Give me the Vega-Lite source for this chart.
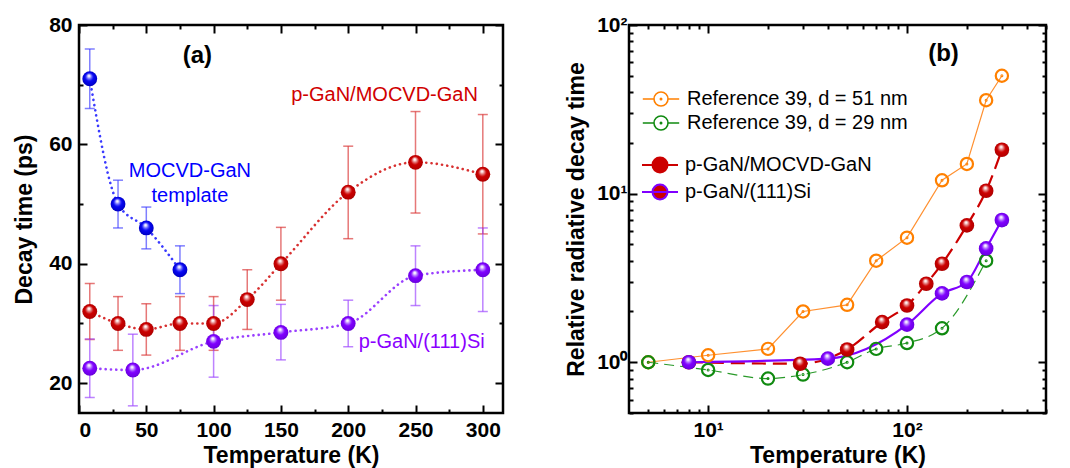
{
  "$schema": "https://vega.github.io/schema/vega-lite/v6.json",
  "padding": {"left": 12, "top": 12, "right": 5, "bottom": 0},
  "background": "white",
  "config": {
    "font": "Liberation Sans",
    "view": {"stroke": "black", "strokeWidth": 2.5},
    "axis": {
      "labelFont": "Liberation Sans", "labelFontSize": 21, "labelFontWeight": "bold", "labelColor": "black",
      "titleFont": "Liberation Sans", "titleFontSize": 23, "titleFontWeight": "bold", "titleColor": "black",
      "tickColor": "black", "tickWidth": 2, "domain": false, "grid": false
    },
    "legend": {"labelFont": "Liberation Sans", "labelFontSize": 20, "labelColor": "black", "padding": 0, "labelLimit": 0}
  },
  "datasets": {
    "a": [
      {"series": "MOCVD-GaN template", "T": 8, "v": 71, "lo": 66, "hi": 76},
      {"series": "MOCVD-GaN template", "T": 29, "v": 50, "lo": 46, "hi": 54},
      {"series": "MOCVD-GaN template", "T": 50, "v": 46, "lo": 42.5, "hi": 49.5},
      {"series": "MOCVD-GaN template", "T": 75, "v": 39, "lo": 35, "hi": 43},
      {"series": "p-GaN/MOCVD-GaN", "T": 8, "v": 32, "lo": 27.3, "hi": 36.7},
      {"series": "p-GaN/MOCVD-GaN", "T": 29, "v": 30, "lo": 25.5, "hi": 34.5},
      {"series": "p-GaN/MOCVD-GaN", "T": 50, "v": 29, "lo": 24.7, "hi": 33.3},
      {"series": "p-GaN/MOCVD-GaN", "T": 75, "v": 30, "lo": 25.5, "hi": 34.5},
      {"series": "p-GaN/MOCVD-GaN", "T": 100, "v": 30, "lo": 25.5, "hi": 34.5},
      {"series": "p-GaN/MOCVD-GaN", "T": 125, "v": 34, "lo": 29, "hi": 39},
      {"series": "p-GaN/MOCVD-GaN", "T": 150, "v": 40, "lo": 33.9, "hi": 46.1},
      {"series": "p-GaN/MOCVD-GaN", "T": 200, "v": 52, "lo": 44.2, "hi": 59.7},
      {"series": "p-GaN/MOCVD-GaN", "T": 250, "v": 57, "lo": 48.5, "hi": 65.5},
      {"series": "p-GaN/MOCVD-GaN", "T": 300, "v": 55, "lo": 45, "hi": 65},
      {"series": "p-GaN/(111)Si", "T": 8, "v": 22.5, "lo": 17.6, "hi": 27.4},
      {"series": "p-GaN/(111)Si", "T": 40, "v": 22.2, "lo": 16.2, "hi": 28.2},
      {"series": "p-GaN/(111)Si", "T": 100, "v": 27, "lo": 21, "hi": 33},
      {"series": "p-GaN/(111)Si", "T": 150, "v": 28.5, "lo": 23.9, "hi": 33.2},
      {"series": "p-GaN/(111)Si", "T": 200, "v": 30, "lo": 26.1, "hi": 33.9},
      {"series": "p-GaN/(111)Si", "T": 250, "v": 38, "lo": 33, "hi": 43},
      {"series": "p-GaN/(111)Si", "T": 300, "v": 39, "lo": 32, "hi": 46}
    ],
    "b": [
      {"series": "Reference 39, d = 51 nm", "T": 5, "v": 1.0},
      {"series": "Reference 39, d = 51 nm", "T": 10, "v": 1.1},
      {"series": "Reference 39, d = 51 nm", "T": 20, "v": 1.2},
      {"series": "Reference 39, d = 51 nm", "T": 30, "v": 2.0},
      {"series": "Reference 39, d = 51 nm", "T": 50, "v": 2.19},
      {"series": "Reference 39, d = 51 nm", "T": 70, "v": 4.0},
      {"series": "Reference 39, d = 51 nm", "T": 100, "v": 5.48},
      {"series": "Reference 39, d = 51 nm", "T": 150, "v": 12.0},
      {"series": "Reference 39, d = 51 nm", "T": 200, "v": 15.0},
      {"series": "Reference 39, d = 51 nm", "T": 250, "v": 35.8},
      {"series": "Reference 39, d = 51 nm", "T": 300, "v": 50},
      {"series": "Reference 39, d = 29 nm", "T": 5, "v": 1.0},
      {"series": "Reference 39, d = 29 nm", "T": 10, "v": 0.9},
      {"series": "Reference 39, d = 29 nm", "T": 20, "v": 0.8},
      {"series": "Reference 39, d = 29 nm", "T": 30, "v": 0.845},
      {"series": "Reference 39, d = 29 nm", "T": 50, "v": 1.0},
      {"series": "Reference 39, d = 29 nm", "T": 70, "v": 1.2},
      {"series": "Reference 39, d = 29 nm", "T": 100, "v": 1.3},
      {"series": "Reference 39, d = 29 nm", "T": 150, "v": 1.59},
      {"series": "Reference 39, d = 29 nm", "T": 250, "v": 4.0},
      {"series": "p-GaN/MOCVD-GaN", "T": 8, "v": 1.0},
      {"series": "p-GaN/MOCVD-GaN", "T": 29, "v": 0.98},
      {"series": "p-GaN/MOCVD-GaN", "T": 50, "v": 1.19},
      {"series": "p-GaN/MOCVD-GaN", "T": 75, "v": 1.73},
      {"series": "p-GaN/MOCVD-GaN", "T": 100, "v": 2.17},
      {"series": "p-GaN/MOCVD-GaN", "T": 125, "v": 2.92},
      {"series": "p-GaN/MOCVD-GaN", "T": 150, "v": 3.84},
      {"series": "p-GaN/MOCVD-GaN", "T": 200, "v": 6.48},
      {"series": "p-GaN/MOCVD-GaN", "T": 250, "v": 10.4},
      {"series": "p-GaN/MOCVD-GaN", "T": 300, "v": 18.2},
      {"series": "p-GaN/(111)Si", "T": 8, "v": 1.0},
      {"series": "p-GaN/(111)Si", "T": 40, "v": 1.05},
      {"series": "p-GaN/(111)Si", "T": 100, "v": 1.67},
      {"series": "p-GaN/(111)Si", "T": 150, "v": 2.56},
      {"series": "p-GaN/(111)Si", "T": 200, "v": 2.99},
      {"series": "p-GaN/(111)Si", "T": 250, "v": 4.73},
      {"series": "p-GaN/(111)Si", "T": 300, "v": 6.97}
    ]
  },
  "bounds": "flush",
  "spacing": 126,
  "resolve": {"scale": {"color": "independent", "fill": "independent", "stroke": "independent"}, "legend": {"color": "independent", "fill": "independent", "stroke": "independent"}},
  "hconcat": [
    {
      "width": 424, "height": 388,
      "data": {"name": "a"},
      "layer": [
        {
          "mark": {"type": "errorbar", "ticks": {"size": 10, "thickness": 1.5}, "thickness": 1.5, "opacity": 0.65},
          "encoding": {
            "x": {"field": "T", "type": "quantitative", "scale": {"domain": [0, 315], "nice": false, "zero": false},
              "axis": {"orient": "bottom", "title": "Temperature (K)", "values": [0, 25, 50, 75, 100, 125, 150, 175, 200, 225, 250, 275, 300],
                "labelExpr": "datum.value % 50 === 0 ? datum.label : ''",
                "tickSize": {"condition": {"test": "datum.value % 50 === 0", "value": -8}, "value": -4},
                "labelPadding": 14, "titlePadding": 4}},
            "y": {"field": "lo", "type": "quantitative", "scale": {"domain": [15, 80], "nice": false, "zero": false},
              "axis": {"orient": "left", "title": "Decay time (ps)", "values": [20, 30, 40, 50, 60, 70, 80],
                "labelExpr": "datum.value % 20 === 0 ? datum.label : ''",
                "tickSize": {"condition": {"test": "datum.value % 20 === 0", "value": -8}, "value": -4},
                "labelPadding": 15, "titlePadding": 12}},
            "y2": {"field": "hi"},
            "color": {"field": "series", "type": "nominal", "legend": null,
              "scale": {"domain": ["MOCVD-GaN template", "p-GaN/MOCVD-GaN", "p-GaN/(111)Si"], "range": ["#3a3aff", "#d83030", "#9a40ff"]}}
          }
        },
        {
          "mark": {"type": "line", "interpolate": "monotone", "strokeDash": [0.1, 5.2], "strokeCap": "round", "strokeWidth": 2.6},
          "encoding": {
            "x": {"field": "T", "type": "quantitative",
              "axis": {"orient": "top", "title": null, "labels": false, "values": [0, 25, 50, 75, 100, 125, 150, 175, 200, 225, 250, 275, 300],
                "tickSize": {"condition": {"test": "datum.value % 50 === 0", "value": -8}, "value": -4}}},
            "y": {"field": "v", "type": "quantitative",
              "axis": {"orient": "right", "title": null, "labels": false, "values": [20, 30, 40, 50, 60, 70, 80],
                "tickSize": {"condition": {"test": "datum.value % 20 === 0", "value": -8}, "value": -4}}},
            "color": {"field": "series", "type": "nominal", "legend": null,
              "scale": {"domain": ["MOCVD-GaN template", "p-GaN/MOCVD-GaN", "p-GaN/(111)Si"], "range": ["#1010ff", "#dd1010", "#8a20ff"]}}
          }
        },
        {
          "transform": [{"filter": "datum.series === 'MOCVD-GaN template'"}],
          "mark": {"type": "point", "shape": "circle", "size": 220, "opacity": 1, "strokeWidth": 0,
            "fill": {"gradient": "radial", "x1": 0.44, "y1": 0.28, "r1": 0, "x2": 0.5, "y2": 0.5, "r2": 0.56,
              "stops": [{"offset": 0, "color": "#ffffff"}, {"offset": 0.1, "color": "#f4f4ff"}, {"offset": 0.3, "color": "#6a6aff"}, {"offset": 0.5, "color": "#0808f4"}, {"offset": 0.88, "color": "#0000cc"}, {"offset": 1, "color": "#000080"}]}},
          "encoding": {"x": {"field": "T", "type": "quantitative", "axis": null}, "y": {"field": "v", "type": "quantitative", "axis": null}}
        },
        {
          "transform": [{"filter": "datum.series === 'p-GaN/MOCVD-GaN'"}],
          "mark": {"type": "point", "shape": "circle", "size": 220, "opacity": 1, "strokeWidth": 0,
            "fill": {"gradient": "radial", "x1": 0.44, "y1": 0.28, "r1": 0, "x2": 0.5, "y2": 0.5, "r2": 0.56,
              "stops": [{"offset": 0, "color": "#ffffff"}, {"offset": 0.1, "color": "#fff0f0"}, {"offset": 0.3, "color": "#e07070"}, {"offset": 0.5, "color": "#cc0000"}, {"offset": 0.88, "color": "#b40000"}, {"offset": 1, "color": "#700000"}]}},
          "encoding": {"x": {"field": "T", "type": "quantitative", "axis": null}, "y": {"field": "v", "type": "quantitative", "axis": null}}
        },
        {
          "transform": [{"filter": "datum.series === 'p-GaN/(111)Si'"}],
          "mark": {"type": "point", "shape": "circle", "size": 220, "opacity": 1, "strokeWidth": 0,
            "fill": {"gradient": "radial", "x1": 0.44, "y1": 0.28, "r1": 0, "x2": 0.5, "y2": 0.5, "r2": 0.56,
              "stops": [{"offset": 0, "color": "#ffffff"}, {"offset": 0.1, "color": "#f8f0ff"}, {"offset": 0.3, "color": "#b070ff"}, {"offset": 0.5, "color": "#8000ff"}, {"offset": 0.88, "color": "#6c00e4"}, {"offset": 1, "color": "#40008a"}]}},
          "encoding": {"x": {"field": "T", "type": "quantitative", "axis": null}, "y": {"field": "v", "type": "quantitative", "axis": null}}
        },
        {
          "data": {"values": [{}]},
          "mark": {"type": "text", "text": "(a)", "fontSize": 24, "fontWeight": "bold", "color": "black", "align": "center", "baseline": "middle"},
          "encoding": {"x": {"datum": 88, "type": "quantitative", "axis": null}, "y": {"datum": 74.8, "type": "quantitative", "axis": null}}
        },
        {
          "data": {"values": [{}]},
          "mark": {"type": "text", "text": ["MOCVD-GaN", "template"], "lineHeight": 25, "fontSize": 20, "color": "#0000ff", "align": "center", "baseline": "middle"},
          "encoding": {"x": {"datum": 82.4, "type": "quantitative", "axis": null}, "y": {"datum": 55.6, "type": "quantitative", "axis": null}}
        },
        {
          "data": {"values": [{}]},
          "mark": {"type": "text", "text": "p-GaN/MOCVD-GaN", "fontSize": 20, "color": "#d00000", "align": "center", "baseline": "middle"},
          "encoding": {"x": {"datum": 227, "type": "quantitative", "axis": null}, "y": {"datum": 68.3, "type": "quantitative", "axis": null}}
        },
        {
          "data": {"values": [{}]},
          "mark": {"type": "text", "text": "p-GaN/(111)Si", "fontSize": 20, "color": "#8a00ff", "align": "center", "baseline": "middle"},
          "encoding": {"x": {"datum": 254.6, "type": "quantitative", "axis": null}, "y": {"datum": 26.9, "type": "quantitative", "axis": null}}
        }
      ]
    },
    {
      "width": 417, "height": 388,
      "data": {"name": "b"},
      "resolve": {"scale": {"stroke": "independent"}, "legend": {"stroke": "independent"}},
      "layer": [
        {
          "transform": [{"filter": "datum.series === 'Reference 39, d = 51 nm'"}],
          "mark": {"type": "line", "color": "#ff9030", "strokeWidth": 1.2},
          "encoding": {
            "x": {"field": "T", "type": "quantitative", "scale": {"type": "log", "domain": [4, 500], "nice": false},
              "axis": {"orient": "bottom", "title": "Temperature (K)", "values": [5, 6, 7, 8, 9, 10, 20, 30, 40, 50, 60, 70, 80, 90, 100, 200, 300, 400, 500],
                "labelExpr": "datum.value === 10 ? '10¹' : (datum.value === 100 ? '10²' : '')",
                "tickSize": {"condition": {"test": "datum.value === 10 || datum.value === 100", "value": -8}, "value": -4},
                "labelPadding": 14, "titlePadding": 4}},
            "y": {"field": "v", "type": "quantitative", "scale": {"type": "log", "domain": [0.5, 100], "nice": false},
              "axis": {"orient": "left", "title": "Relative radiative decay time", "values": [0.5, 0.6, 0.7, 0.8, 0.9, 1, 2, 3, 4, 5, 6, 7, 8, 9, 10, 20, 30, 40, 50, 60, 70, 80, 90, 100],
                "labelExpr": "datum.value === 1 ? '10⁰' : (datum.value === 10 ? '10¹' : (datum.value === 100 ? '10²' : ''))",
                "tickSize": {"condition": {"test": "datum.value === 1 || datum.value === 10 || datum.value === 100", "value": -8}, "value": -4},
                "labelPadding": 10, "titlePadding": 8}}
          }
        },
        {
          "transform": [{"filter": "datum.series === 'Reference 39, d = 29 nm'"}],
          "mark": {"type": "line", "color": "#2a9a2a", "strokeWidth": 1.2, "strokeDash": [10, 6], "interpolate": "monotone"},
          "encoding": {
            "x": {"field": "T", "type": "quantitative",
              "axis": {"orient": "top", "title": null, "labels": false, "values": [5, 6, 7, 8, 9, 10, 20, 30, 40, 50, 60, 70, 80, 90, 100, 200, 300, 400, 500],
                "tickSize": {"condition": {"test": "datum.value === 10 || datum.value === 100", "value": -8}, "value": -4}}},
            "y": {"field": "v", "type": "quantitative",
              "axis": {"orient": "right", "title": null, "labels": false, "values": [0.5, 0.6, 0.7, 0.8, 0.9, 1, 2, 3, 4, 5, 6, 7, 8, 9, 10, 20, 30, 40, 50, 60, 70, 80, 90, 100],
                "tickSize": {"condition": {"test": "datum.value === 1 || datum.value === 10 || datum.value === 100", "value": -8}, "value": -4}}}
          }
        },
        {
          "transform": [{"filter": "datum.series === 'p-GaN/MOCVD-GaN'"}],
          "mark": {"type": "line", "color": "#cc0000", "strokeWidth": 2.2, "strokeDash": [14, 7], "interpolate": "monotone"},
          "encoding": {"x": {"field": "T", "type": "quantitative", "axis": null}, "y": {"field": "v", "type": "quantitative", "axis": null}}
        },
        {
          "transform": [{"filter": "datum.series === 'p-GaN/(111)Si'"}],
          "mark": {"type": "line", "color": "#8000ff", "strokeWidth": 2.2, "interpolate": "monotone"},
          "encoding": {"x": {"field": "T", "type": "quantitative", "axis": null}, "y": {"field": "v", "type": "quantitative", "axis": null}}
        },
        {
          "transform": [{"filter": "indexof(datum.series, 'Reference') === 0"}],
          "mark": {"type": "point", "shape": "circle", "filled": false, "size": 150, "strokeWidth": 2.2, "opacity": 1},
          "encoding": {
            "x": {"field": "T", "type": "quantitative", "axis": null}, "y": {"field": "v", "type": "quantitative", "axis": null},
            "stroke": {"field": "series", "type": "nominal",
              "scale": {"domain": ["Reference 39, d = 51 nm", "Reference 39, d = 29 nm"], "range": ["#ff8000", "#108a10"]},
              "legend": {"title": null, "orient": "none", "legendX": 22, "legendY": 64, "rowPadding": 2, "labelOffset": 16,
                "symbolType": "M-2.6,0H-1M1,0H2.6M-1,0A1,1 0 1,0 1,0A1,1 0 1,0 -1,0M-0.1,0A0.1,0.1 0 1,0 0.1,0A0.1,0.1 0 1,0 -0.1,0",
                "symbolSize": 196, "symbolStrokeWidth": 1.6, "symbolFillColor": "transparent"}}
          }
        },
        {
          "transform": [{"filter": "indexof(datum.series, 'Reference') === 0"}],
          "mark": {"type": "point", "shape": "circle", "filled": false, "size": 1, "strokeWidth": 2, "opacity": 1},
          "encoding": {
            "x": {"field": "T", "type": "quantitative", "axis": null}, "y": {"field": "v", "type": "quantitative", "axis": null},
            "stroke": {"field": "series", "type": "nominal", "legend": null,
              "scale": {"domain": ["Reference 39, d = 51 nm", "Reference 39, d = 29 nm"], "range": ["#ff8000", "#108a10"]}}
          }
        },
        {
          "transform": [{"filter": "indexof(datum.series, 'p-GaN') === 0"}],
          "mark": {"type": "point", "shape": "circle", "filled": true, "fill": "#cc0000", "size": 40, "opacity": 1, "strokeWidth": 2},
          "encoding": {
            "x": {"field": "T", "type": "quantitative", "axis": null}, "y": {"field": "v", "type": "quantitative", "axis": null},
            "stroke": {"field": "series", "type": "nominal",
              "scale": {"domain": ["p-GaN/MOCVD-GaN", "p-GaN/(111)Si"], "range": ["#cc0000", "#8000ff"]},
              "legend": {"title": null, "orient": "none", "legendX": 21, "legendY": 130, "rowPadding": 3, "labelOffset": 15,
                "symbolType": "M-2.4,0H2.4M-1,0A1,1 0 1,0 1,0A1,1 0 1,0 -1,0Z",
                "symbolSize": 225, "symbolStrokeWidth": 2,
                "encode": {"symbols": {
                  "fill": {"signal": "datum.value === 'p-GaN/(111)Si' ? {gradient: 'radial', x1: 0.44, y1: 0.28, r1: 0, x2: 0.5, y2: 0.5, r2: 0.56, stops: [{offset: 0, color: '#ffffff'}, {offset: 0.1, color: '#f8f0ff'}, {offset: 0.3, color: '#b070ff'}, {offset: 0.5, color: '#8000ff'}, {offset: 0.88, color: '#6c00e4'}, {offset: 1, color: '#40008a'}]} : {gradient: 'radial', x1: 0.44, y1: 0.28, r1: 0, x2: 0.5, y2: 0.5, r2: 0.56, stops: [{offset: 0, color: '#ffffff'}, {offset: 0.1, color: '#fff0f0'}, {offset: 0.3, color: '#e07070'}, {offset: 0.5, color: '#cc0000'}, {offset: 0.88, color: '#b40000'}, {offset: 1, color: '#700000'}]}"}
                }}}}
          }
        },
        {
          "transform": [{"filter": "datum.series === 'p-GaN/MOCVD-GaN'"}],
          "mark": {"type": "point", "shape": "circle", "size": 215, "opacity": 1, "strokeWidth": 0,
            "fill": {"gradient": "radial", "x1": 0.44, "y1": 0.28, "r1": 0, "x2": 0.5, "y2": 0.5, "r2": 0.56,
              "stops": [{"offset": 0, "color": "#ffffff"}, {"offset": 0.1, "color": "#fff0f0"}, {"offset": 0.3, "color": "#e07070"}, {"offset": 0.5, "color": "#cc0000"}, {"offset": 0.88, "color": "#b40000"}, {"offset": 1, "color": "#700000"}]}},
          "encoding": {"x": {"field": "T", "type": "quantitative", "axis": null}, "y": {"field": "v", "type": "quantitative", "axis": null}}
        },
        {
          "transform": [{"filter": "datum.series === 'p-GaN/(111)Si'"}],
          "mark": {"type": "point", "shape": "circle", "size": 215, "opacity": 1, "strokeWidth": 0,
            "fill": {"gradient": "radial", "x1": 0.44, "y1": 0.28, "r1": 0, "x2": 0.5, "y2": 0.5, "r2": 0.56,
              "stops": [{"offset": 0, "color": "#ffffff"}, {"offset": 0.1, "color": "#f8f0ff"}, {"offset": 0.3, "color": "#b070ff"}, {"offset": 0.5, "color": "#8000ff"}, {"offset": 0.88, "color": "#6c00e4"}, {"offset": 1, "color": "#40008a"}]}},
          "encoding": {"x": {"field": "T", "type": "quantitative", "axis": null}, "y": {"field": "v", "type": "quantitative", "axis": null}}
        },
        {
          "data": {"values": [{}]},
          "mark": {"type": "text", "text": "(b)", "fontSize": 24, "fontWeight": "bold", "color": "black", "align": "center", "baseline": "middle"},
          "encoding": {"x": {"datum": 152.6, "type": "quantitative", "axis": null}, "y": {"datum": 67.3, "type": "quantitative", "axis": null}}
        }
      ]
    }
  ]
}
